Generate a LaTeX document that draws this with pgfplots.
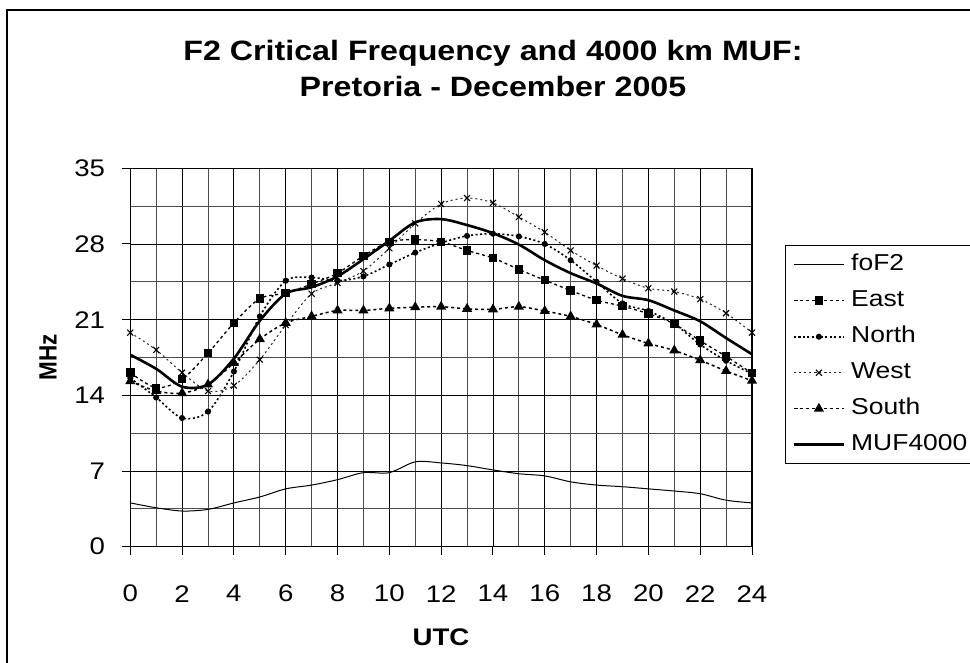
\documentclass[border=0pt]{standalone}
\usepackage{fontspec}
\setmainfont{Liberation Sans}[FakeStretch=1.15]
\newfontfamily\rotfont{Liberation Sans}[FakeStretch=0.9]
\usepackage{pgfplots}
\pgfplotsset{compat=1.18}
\usepackage{pgfplotstable}

\pgfplotstableread{
h fof2 east north west south muf
0 4.05 16.1 15.6 19.8 15.3 17.75
1 3.6 14.7 13.8 18.2 14.4 16.45
2 3.3 15.5 11.9 16.1 14.2 14.8
3 3.45 17.9 12.5 14.4 15.0 15.0
4 4.05 20.7 16.2 14.9 17.0 17.4
5 4.6 22.95 21.3 17.3 19.2 20.9
6 5.35 23.45 24.6 20.5 20.7 23.4
7 5.7 24.3 24.9 23.4 21.3 24.0
8 6.2 25.3 24.6 24.4 21.85 25.0
9 6.85 26.9 25.0 25.5 21.85 26.6
10 6.85 28.2 26.1 27.6 22.05 28.3
11 7.85 28.4 27.2 29.9 22.15 30.0
12 7.75 28.2 28.1 31.7 22.2 30.3
13 7.5 27.4 28.75 32.25 22.0 29.75
14 7.1 26.7 28.95 31.8 21.95 29.0
15 6.75 25.65 28.7 30.5 22.2 27.95
16 6.55 24.65 28.0 29.1 21.8 26.5
17 6.0 23.7 26.5 27.4 21.3 25.3
18 5.7 22.8 24.5 26.0 20.55 24.35
19 5.55 22.25 22.5 24.8 19.6 23.2
20 5.35 21.55 21.8 23.9 18.8 22.8
21 5.15 20.6 20.6 23.6 18.15 21.85
22 4.9 19.05 18.7 22.9 17.25 20.85
23 4.3 17.6 17.2 21.6 16.25 19.3
24 4.05 16.05 16.0 19.8 15.35 17.8
}\datatable

\begin{document}
\begin{tikzpicture}
\useasboundingbox (0,0) rectangle (970pt,662pt);
\clip (0,0) rectangle (970pt,662pt);
\draw[line width=1.2pt] (7pt,-5pt) -- (7pt,652pt) -- (980pt,652pt);
\node[anchor=base, inner sep=0pt, font=\fontsize{28}{32}\selectfont\bfseries] at (493pt,601pt) {F2 Critical Frequency and 4000 km MUF:};
\node[anchor=base, inner sep=0pt, font=\fontsize{28}{32}\selectfont\bfseries] at (493pt,565pt) {Pretoria - December 2005};
\node[inner sep=0pt, font=\fontsize{24}{28}\selectfont\bfseries] at (441pt,25pt) {UTC};
\node[inner sep=0pt, rotate=90, font=\fontsize{25}{28}\selectfont\rotfont\bfseries] at (48pt,305pt) {MHz};
\begin{axis}[
  at={(130.3pt,115.3pt)}, anchor=south west,
  scale only axis, width=621.7pt, height=378.4pt,
  xmin=0, xmax=24, ymin=0, ymax=35,
  xtick={0,2,...,24}, ytick={0,7,...,35},
  minor x tick num=1, minor y tick num=1,
  grid=both,
  major grid style={black, line width=0.9pt},
  minor grid style={black!70, line width=0.9pt},
  tick align=outside, tick pos=left,
  major tick length=8pt, minor tick length=0pt,
  tick style={black, line width=1pt},
  axis line style={line width=1.2pt},
  /pgf/number format/assume math mode=true,
  ticklabel style={font=\fontsize{24}{28}\selectfont},
  xticklabel style={anchor=center, inner sep=0pt, yshift=-39pt},
  yticklabel style={anchor=east, inner sep=0pt, xshift=-17pt},
  legend style={at={(1.0531,0.797)}, anchor=north west, draw=black, line width=1.2pt, fill=white,
    inner xsep=7pt, inner ysep=1pt, row sep=0pt, column sep=6pt,
    font=\fontsize{23}{28}\selectfont,
    nodes={inner xsep=0pt, inner ysep=6pt, text height=18pt, text depth=6pt}},
  legend cell align=left,
  legend image code/.code={\draw[mark repeat=2,mark phase=2,#1] plot coordinates {(0pt,0pt) (25pt,0pt) (50pt,0pt)};},
]
\addplot[black, line width=1pt, smooth, no marks] table[x=h,y=fof2] {\datatable};
\addlegendentry{foF2}
\addplot[black, line width=1.3pt, dash pattern=on 3pt off 3pt, smooth, mark=square*, mark size=3.6pt, mark options={solid}] table[x=h,y=east] {\datatable};
\addlegendentry{East}
\addplot[black, line width=1.6pt, dash pattern=on 2pt off 2.5pt, smooth, mark=*, mark size=2.2pt, mark options={solid}] table[x=h,y=north] {\datatable};
\addlegendentry{North}
\addplot[black!85, line width=1pt, dash pattern=on 2pt off 3pt, smooth, mark=x, mark size=4.2pt, mark options={solid, black, line width=1.1pt}] table[x=h,y=west] {\datatable};
\addlegendentry{West}
\addplot[black, line width=1.5pt, dash pattern=on 3pt off 3pt, smooth, mark=triangle*, mark size=4.4pt, mark options={solid}] table[x=h,y=south] {\datatable};
\addlegendentry{South}
\addplot[black, line width=2.6pt, smooth, no marks] table[x=h,y=muf] {\datatable};
\addlegendentry{MUF4000}
\end{axis}
\end{tikzpicture}
\end{document}
